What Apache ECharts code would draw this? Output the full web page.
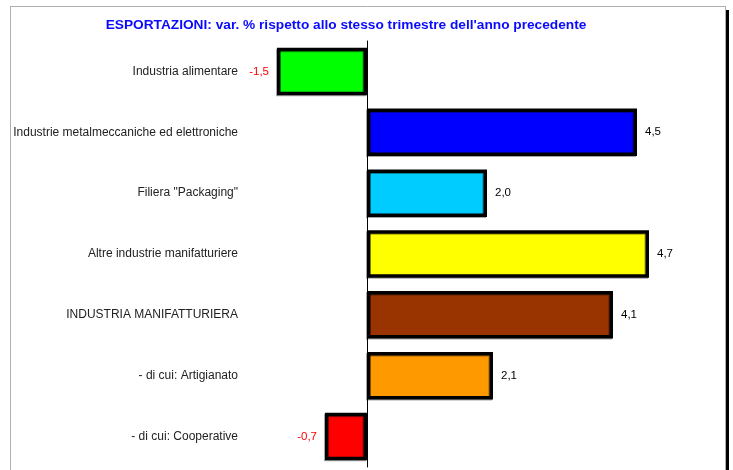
<!DOCTYPE html>
<html>
<head>
<meta charset="utf-8">
<script src="https://cdn.jsdelivr.net/npm/echarts@6/dist/echarts.min.js"></script>
<style>
  html, body { margin: 0; padding: 0; background: #fff; }
  #chart { width: 733px; height: 470px; }
</style>
</head>
<body>
<div id="chart"></div>
<script>
// categorie e valori (var. % export)
var categories = [
    'Industria alimentare',
    'Industrie metalmeccaniche ed elettroniche',
    'Filiera "Packaging"',
    'Altre industrie manifatturiere',
    'INDUSTRIA MANIFATTURIERA',
    '- di cui: Artigianato',
    '- di cui: Cooperative'
];
var values = [-1.5, 4.5, 2.0, 4.7, 4.1, 2.1, -0.7];
var colors = ['#00ff00', '#0000ff', '#00ccff', '#ffff00', '#993300', '#ff9900', '#ff0000'];

var chart = echarts.init(document.getElementById('chart'));

function fmt(v) {
    return v.toFixed(1).replace('.', ',');
}

var option = {
    animation: false,
    textStyle: { fontFamily: 'Liberation Sans, Arial, sans-serif' },
    title: {
        text: "ESPORTAZIONI: var. % rispetto allo stesso trimestre dell'anno precedente",
        left: 345,
        textAlign: 'center',
        top: 13,
        textStyle: { color: '#0a0aff', fontSize: 13.7, fontWeight: 'bold' }
    },
    graphic: [
        { type: 'line', shape: { x1: 10, y1: 6.5, x2: 725, y2: 6.5 }, style: { stroke: '#b0b0b0', lineWidth: 1 } },
        { type: 'line', shape: { x1: 10.5, y1: 6, x2: 10.5, y2: 470 }, style: { stroke: '#b0b0b0', lineWidth: 1 } },
        { type: 'line', shape: { x1: 725.5, y1: 6, x2: 725.5, y2: 470 }, style: { stroke: '#b0b0b0', lineWidth: 1 } },
        { type: 'rect', shape: { x: 726, y: 10, width: 3, height: 460 }, style: { fill: '#000' } }
    ],
    grid: { left: 247, right: 36, top: 41, bottom: 3 },
    xAxis: {
        type: 'value',
        min: -2,
        max: 5.5,
        show: false
    },
    yAxis: [{
        type: 'category',
        data: categories,
        inverse: true,
        axisLine: { show: false, onZero: false },
        axisTick: { show: false },
        axisLabel: { color: '#222', fontSize: 12, margin: 9 }
    }, {
        type: 'category',
        data: categories,
        inverse: true,
        position: 'left',
        axisLine: { onZero: true, lineStyle: { color: '#000', width: 1 } },
        axisTick: { inside: true, length: 4, lineStyle: { color: '#999' } },
        axisLabel: { show: false }
    }],
    series: [{
        type: 'bar',
        yAxisIndex: 0,
        barCategoryGap: '22%',
        data: values.map(function (v, i) {
            return {
                value: v,
                itemStyle: { color: colors[i] },
                label: { position: v < 0 ? 'left' : 'right', color: v < 0 ? '#ff0000' : '#000' }
            };
        }),
        itemStyle: {
            borderColor: '#000',
            borderWidth: 3.5,
            shadowColor: 'rgba(0,0,0,0.35)',
            shadowBlur: 0,
            shadowOffsetX: -1,
            shadowOffsetY: 1
        },
        label: {
            show: true,
            fontSize: 11.5,
            distance: 8,
            formatter: function (p) { return fmt(p.value); }
        }
    }]
};

option.title.left = 341;
chart.setOption(option);
</script>
</body>
</html>
